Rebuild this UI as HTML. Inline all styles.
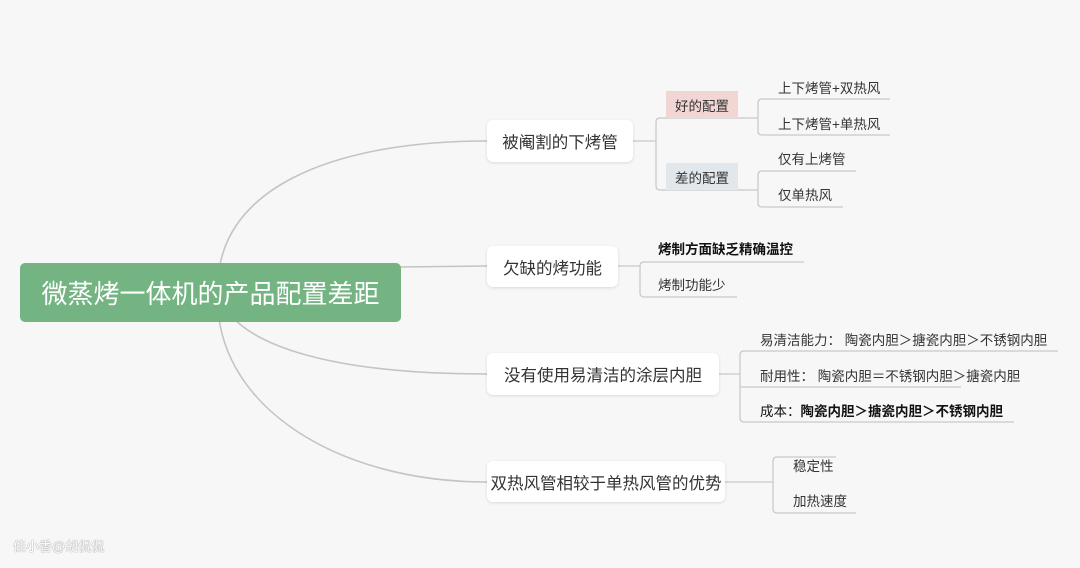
<!DOCTYPE html>
<html><head><meta charset="utf-8"><style>
body{margin:0;width:1080px;height:568px;background:#f7f7f7;position:relative;overflow:hidden;font-family:"Liberation Sans","Noto Sans CJK SC",sans-serif;}
.a{position:absolute;white-space:nowrap;}
.n{background:#fff;border-radius:6px;box-shadow:0 1px 3px rgba(0,0,0,0.12);font-size:16.5px;color:#333;display:flex;align-items:center;justify-content:center;}
.t{font-size:13.5px;color:#333;}
</style></head><body>
<svg class="a" style="left:0;top:0" width="1080" height="568">
<g fill="none" stroke="#c4c4c4" stroke-width="1.6">
<path d="M218,292 C214,190 330,141 487,141"/>
<path d="M218,292 C232,345 330,374 487,374"/>
<path d="M218,292 C212,400 330,482 487,482"/>
<path d="M400,267 L487,266"/>
</g>
<g fill="none" stroke="#c8c8c8" stroke-width="1.2">
<path d="M633,141 H656 M666,118 H660 Q656,118 656,122 V186 Q656,190 660,190 H666"/>
<path d="M666,118 H738 M666,190 H738"/>
<path d="M738,118 H758 M890,99 H762 Q758,99 758,103 V131 Q758,135 762,135 H890"/>
<path d="M738,190 H758 M856,171 H762 Q758,171 758,175 V203 Q758,207 762,207 H843"/>
<path d="M618,266 H640 M804,262 H644 Q640,262 640,266 V293 Q640,297 644,297 H737"/>
<path d="M719,374 H740 M1058,351 H744 Q740,351 740,355 V418 Q740,422 744,422 H1014 M740,387 H961"/>
<path d="M725,482 H773 M836,457 H777 Q773,457 773,461 V509 Q773,513 777,513 H856"/>
</g>
</svg>
<div class="a" style="left:20px;top:263px;width:381px;height:59px;background:#73b482;border-radius:5px;color:#fff;font-size:26px;display:flex;align-items:center;justify-content:center;">微蒸烤一体机的产品配置差距</div>
<div class="a n" style="left:487px;top:120px;width:146px;height:42px;">被阉割的下烤管</div>
<div class="a n" style="left:487px;top:246px;width:131px;height:41px;">欠缺的烤功能</div>
<div class="a n" style="left:487px;top:353px;width:232px;height:42px;">没有使用易清洁的涂层内胆</div>
<div class="a n" style="left:487px;top:461px;width:238px;height:41px;">双热风管相较于单热风管的优势</div>
<div class="a t" style="left:666px;top:91px;width:72px;height:27px;background:#f2d6d3;display:flex;align-items:center;justify-content:center;">好的配置</div>
<div class="a t" style="left:666px;top:163px;width:72px;height:27px;background:#e2e7eb;display:flex;align-items:center;justify-content:center;">差的配置</div>
<div class="a t" style="left:778px;top:77px;">上下烤管+双热风</div>
<div class="a t" style="left:778px;top:113px;">上下烤管+单热风</div>
<div class="a t" style="left:778px;top:148px;">仅有上烤管</div>
<div class="a t" style="left:778px;top:184px;">仅单热风</div>
<div class="a t" style="left:658px;top:238px;color:#111;font-weight:bold;">烤制方面缺乏精确温控</div>
<div class="a t" style="left:658px;top:274px;">烤制功能少</div>
<div class="a t" style="left:760px;top:329px;">易清洁能力：&nbsp;陶瓷内胆＞搪瓷内胆＞不锈钢内胆</div>
<div class="a t" style="left:760px;top:365px;">耐用性：&nbsp;陶瓷内胆＝不锈钢内胆＞搪瓷内胆</div>
<div class="a t" style="left:760px;top:400px;color:#111;">成本：<b>陶瓷内胆＞搪瓷内胆＞不锈钢内胆</b></div>
<div class="a t" style="left:793px;top:455px;">稳定性</div>
<div class="a t" style="left:793px;top:490px;">加热速度</div>
<div class="a" style="left:13px;top:536px;font-size:13px;color:#fff;text-shadow:0 0 1px #999,0 0 1px #999;">佳小香@胡侃侃</div>
</body></html>
